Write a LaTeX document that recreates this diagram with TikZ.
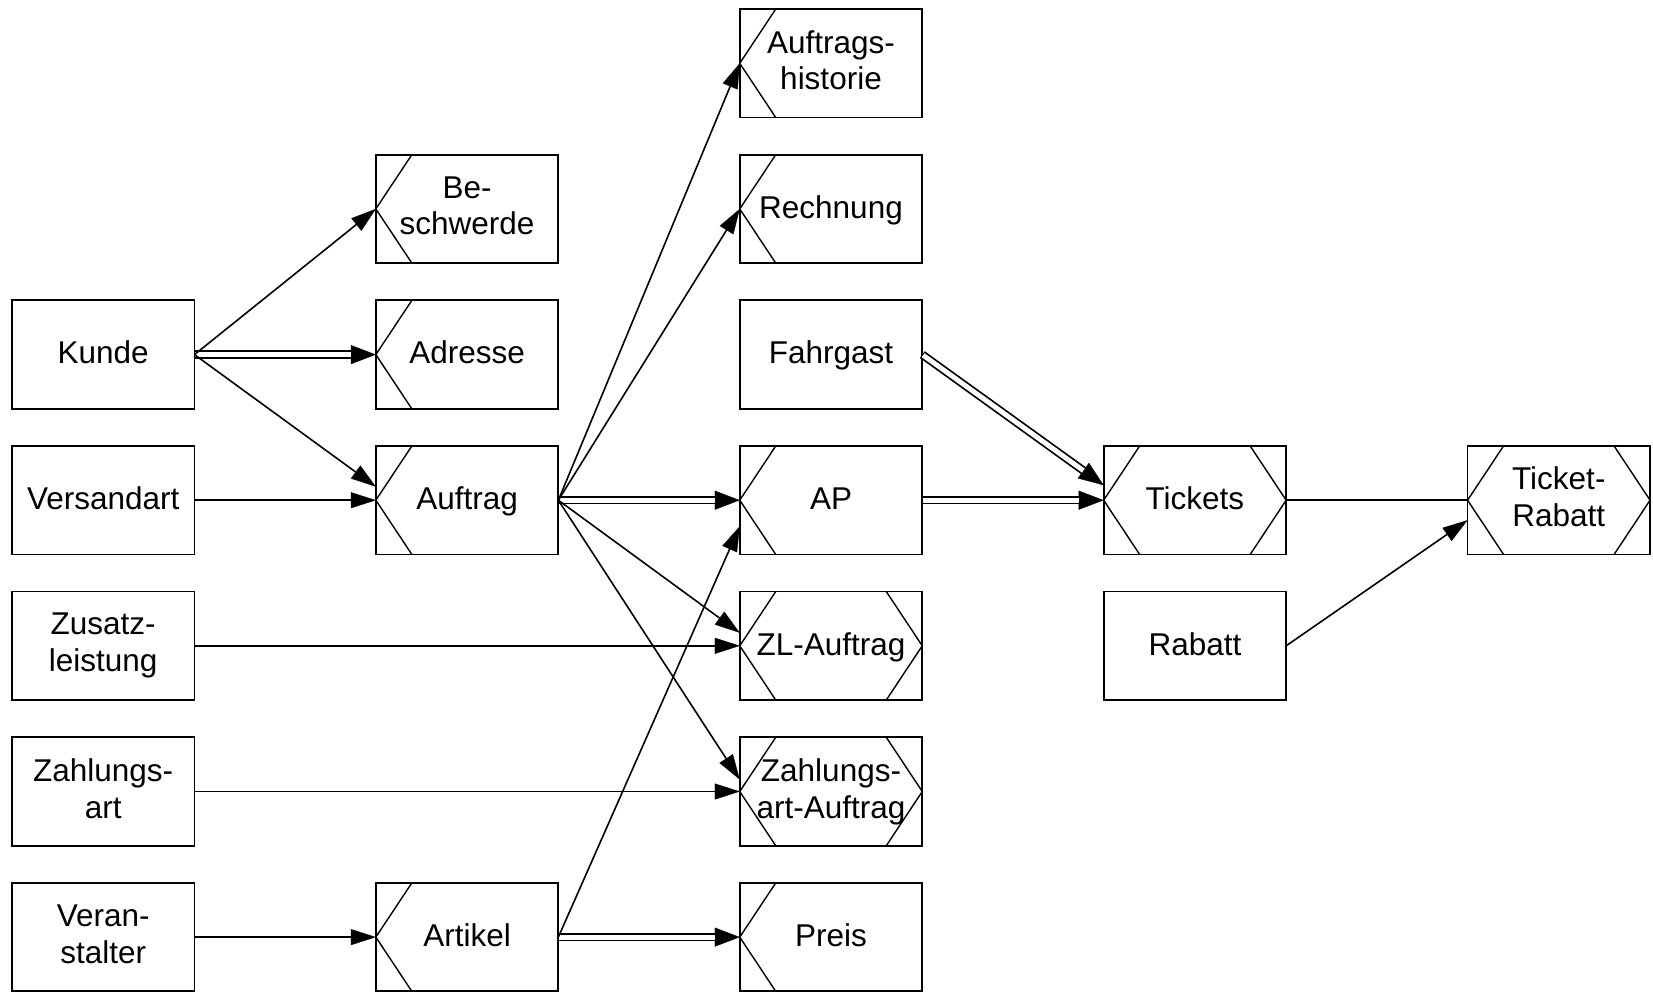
\documentclass[tikz,border=0pt]{standalone}
\usepackage{fontspec}
\setmainfont{Liberation Sans}
\usetikzlibrary{arrows.meta}
\begin{document}
\begin{tikzpicture}[x=1pt,y=-1pt,
  entity/.style={draw, line width=1.8pt, outer sep=0pt, inner sep=0pt,
    minimum width=182.5pt, minimum height=108.5pt, align=center,
    font=\fontsize{31.5}{36.8}\selectfont,
    execute at begin node=\rule{0pt}{25pt},
    execute at end node=\rule[-6.6pt]{0pt}{6.6pt}},
  chev/.style={line width=1.4pt},
  conn/.style={line width=1.6pt, -{Triangle[length=25pt,width=16pt,line width=0.3pt]}},
  dconn/.style={line width=8.4pt, -{Triangle[length=25pt,width=19pt,line width=0.3pt]},
    postaction={draw=white, line width=4.9pt, arrows=-, shorten >=25pt, shorten <=1pt}},
  plain/.style={line width=1.6pt},
]
\useasboundingbox (0,0) rectangle (1653,991);
\clip (0,0) rectangle (1653,991);

% column 1
\node[entity] (kunde)   at (103.2,354.6) {Kunde};
\node[entity] (versand) at (103.2,500.2) {Versandart};
\node[entity] (zusatz)  at (103.2,645.8) {Zusatz-\\leistung};
\node[entity] (zahlart) at (103.2,791.5) {Zahlungs-\\art};
\node[entity] (veran)   at (103.2,937.1) {Veran-\\stalter};
% column 2
\node[entity] (besch)   at (467.1,208.9) {Be-\\schwerde};
\node[entity] (adresse) at (467.1,354.6) {Adresse};
\node[entity] (auftrag) at (467.1,500.2) {Auftrag};
\node[entity] (artikel) at (467.1,937.1) {Artikel};
% column 3
\node[entity] (hist)     at (831.0,63.3)  {Auftrags-\\historie};
\node[entity] (rech)     at (831.0,208.9) {Rechnung};
\node[entity] (fahrgast) at (831.0,354.6) {Fahrgast};
\node[entity] (ap)       at (831.0,500.2) {AP};
\node[entity] (zlauf)    at (831.0,645.8) {ZL-Auftrag};
\node[entity] (zaauf)    at (831.0,791.5) {Zahlungs-\\art-Auftrag};
\node[entity] (preis)    at (831.0,937.1) {Preis};
% column 4
\node[entity] (tickets) at (1194.9,500.2) {Tickets};
\node[entity] (rabatt)  at (1194.9,645.8) {Rabatt};
% column 5
\node[entity] (trabatt) at (1558.8,500.2) {Ticket-\\Rabatt};

% chevron marks on the relationship boxes
\foreach \n in {hist,besch,rech,adresse,auftrag,ap,artikel,preis,tickets,trabatt,zlauf,zaauf}
  \draw[chev] ([xshift=36pt]\n.north west) -- (\n.west) -- ([xshift=36pt]\n.south west);
\foreach \n in {tickets,trabatt,zlauf,zaauf}
  \draw[chev] ([xshift=-36pt]\n.north east) -- (\n.east) -- ([xshift=-36pt]\n.south east);

% double connectors
\draw[dconn] (kunde.east) -- (adresse.west);
\draw[dconn] (auftrag.east) -- (ap.west);
\draw[dconn] (artikel.east) -- (preis.west);
\draw[dconn] (fahrgast.east) -- ([yshift=15pt]tickets.west);
\draw[dconn] (ap.east) -- (tickets.west);

% single connectors
\draw[conn] (kunde.east) -- (besch.west);
\draw[conn] (kunde.east) -- ([yshift=13.5pt]auftrag.west);
\draw[conn] (versand.east) -- (auftrag.west);
\draw[conn] (zusatz.east) -- (zlauf.west);
\draw[conn] (zahlart.east) -- (zaauf.west);
\draw[conn] (veran.east) -- (artikel.west);
\draw[conn] (auftrag.east) -- (hist.west);
\draw[conn] (auftrag.east) -- (rech.west);
\draw[conn] (auftrag.east) -- ([yshift=13pt]zlauf.west);
\draw[conn] (auftrag.east) -- ([yshift=12pt]zaauf.west);
\draw[conn] (artikel.east) -- ([yshift=-26pt]ap.west);
\draw[conn] (rabatt.east) -- ([yshift=-20pt]trabatt.west);
\draw[plain] (tickets.east) -- (trabatt.west);
\end{tikzpicture}
\end{document}
